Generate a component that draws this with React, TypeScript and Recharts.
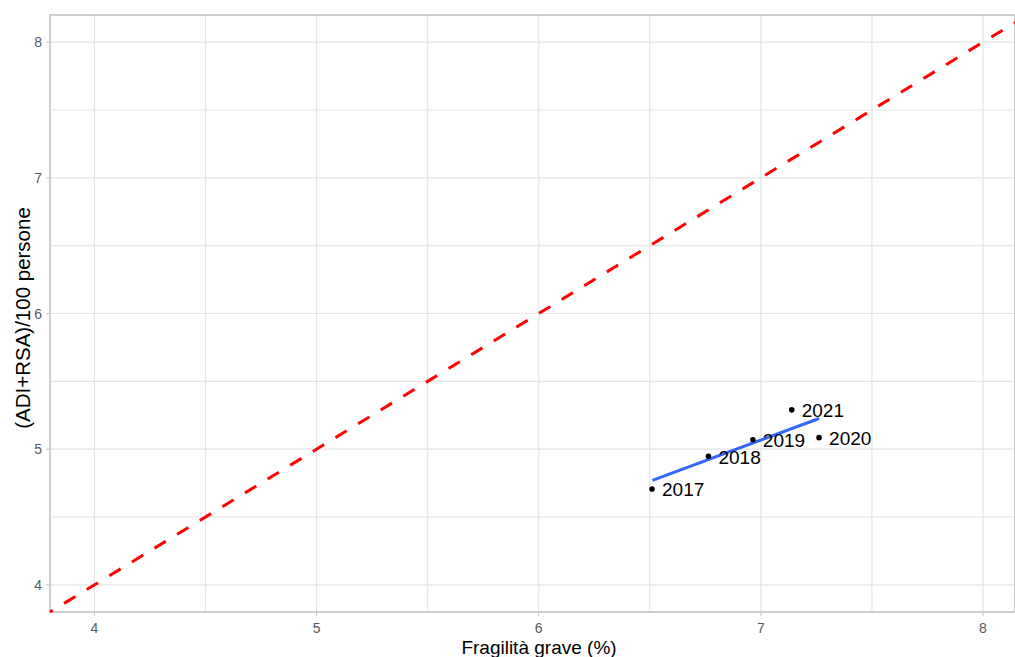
import React from 'react'
import {
  ComposedChart,
  Scatter,
  XAxis,
  YAxis,
  CartesianGrid,
  ReferenceLine,
  ReferenceArea,
} from 'recharts'

// Punti annuali: fragilità grave (%) vs (ADI+RSA)/100 persone
const YEARS = ['2017', '2018', '2019', '2020', '2021']
const FRAGILITA = [6.51, 6.764, 6.964, 7.262, 7.139]
const ADI_RSA = [4.707, 4.947, 5.07, 5.085, 5.29]

// Retta di regressione (estremi)
const FIT_X = [6.512, 7.262]
const FIT_Y = [4.77, 5.226]

const X_DOMAIN: [number, number] = [3.8, 8.144]
const Y_DOMAIN: [number, number] = [3.8, 8.2]
const X_TICKS = [4, 4.5, 5, 5.5, 6, 6.5, 7, 7.5, 8]
const Y_TICKS = [4, 4.5, 5, 5.5, 6, 6.5, 7, 7.5, 8]

const points = YEARS.map((year, i) => ({ x: FRAGILITA[i], y: ADI_RSA[i], year }))
const fitLine = FIT_X.map((x, i) => ({ x, y: FIT_Y[i] }))

const FONT = '"Liberation Sans", Arial, sans-serif'
const TICK_COLOR = '#555a60'
const BORDER = '#c4c4c4'

const XTick = (props: any) => {
  const { x, y, payload } = props
  if (!Number.isInteger(payload.value)) return <g />
  return (
    <g>
      <line x1={x} x2={x} y1={y} y2={y + 4} stroke={BORDER} />
      <text x={x} y={y + 21} textAnchor="middle" fill={TICK_COLOR} fontSize={14} fontFamily={FONT}>
        {payload.value}
      </text>
    </g>
  )
}

const YTick = (props: any) => {
  const { x, y, payload } = props
  if (!Number.isInteger(payload.value)) return <g />
  return (
    <g>
      <line x1={x - 4} x2={x} y1={y} y2={y} stroke={BORDER} />
      <text x={x - 8} y={y + 5} textAnchor="end" fill={TICK_COLOR} fontSize={14} fontFamily={FONT}>
        {payload.value}
      </text>
    </g>
  )
}

const YearDot = (props: any) => {
  const { cx, cy, payload } = props
  return (
    <g>
      <circle cx={cx} cy={cy} r={2.8} fill="#000" />
      <text x={cx + 10} y={cy + 7.5} fill="#000" fontSize={19} fontFamily={FONT}>
        {payload.year}
      </text>
    </g>
  )
}

export default function App() {
  return (
    <div style={{ position: 'absolute', left: 0, top: 0, background: '#fff' }}>
      <ComposedChart
        width={1015}
        height={657}
        margin={{ top: 15, right: 0, bottom: 0, left: 0 }}
      >
        <CartesianGrid stroke="#e4e4e4" strokeWidth={1.2} />
        <XAxis
          type="number"
          dataKey="x"
          domain={X_DOMAIN}
          allowDataOverflow
          ticks={X_TICKS}
          height={45}
          tickSize={0}
          tickMargin={0}
          tickLine={false}
          axisLine={false}
          tick={<XTick />}
          label={{
            content: () => (
              <text x={539} y={654} textAnchor="middle" fill="#000" fontSize={19} fontFamily={FONT}>
                Fragilità grave (%)
              </text>
            ),
          }}
        />
        <YAxis
          type="number"
          dataKey="y"
          domain={Y_DOMAIN}
          allowDataOverflow
          ticks={Y_TICKS}
          width={50}
          tickSize={0}
          tickMargin={0}
          tickLine={false}
          axisLine={false}
          tick={<YTick />}
          label={{
            content: () => (
              <text
                x={30}
                y={318}
                transform="rotate(-90, 30, 318)"
                textAnchor="middle"
                fill="#000"
                fontSize={20.5}
                fontFamily={FONT}
              >
                (ADI+RSA)/100 persone
              </text>
            ),
          }}
        />
        <ReferenceArea
          x1={X_DOMAIN[0]}
          x2={X_DOMAIN[1]}
          y1={Y_DOMAIN[0]}
          y2={Y_DOMAIN[1]}
          fill="none"
          stroke={BORDER}
          strokeWidth={1.5}
          ifOverflow="visible"
        />
        <ReferenceLine
          segment={[
            { x: X_DOMAIN[0], y: X_DOMAIN[0] },
            { x: X_DOMAIN[1], y: X_DOMAIN[1] },
          ]}
          stroke="#ff0000"
          strokeWidth={3}
          strokeDasharray="13.2 13.3"
          strokeDashoffset={10}
          ifOverflow="visible"
        />
        <Scatter
          data={fitLine}
          line={{ stroke: '#3366ff', strokeWidth: 3 }}
          shape={() => <g />}
          isAnimationActive={false}
        />
        <Scatter data={points} shape={<YearDot />} isAnimationActive={false} />
      </ComposedChart>
    </div>
  )
}
